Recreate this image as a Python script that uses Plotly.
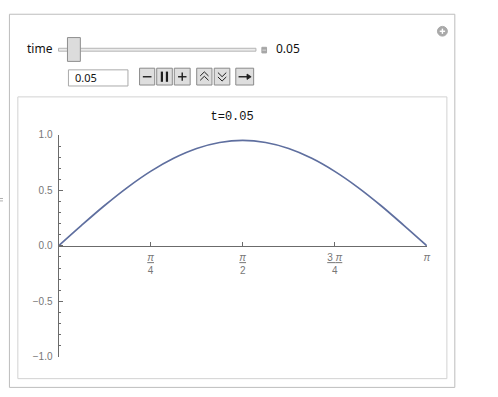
import plotly.graph_objects as go

# ---- data ----
x_vals = [0.000, 0.196, 0.393, 0.589, 0.785, 0.982, 1.178, 1.374, 1.571,
          1.767, 1.963, 2.160, 2.356, 2.553, 2.749, 2.945, 3.142]
y_vals = [0.000, 0.185, 0.364, 0.528, 0.672, 0.790, 0.878, 0.932, 0.951,
          0.932, 0.878, 0.790, 0.672, 0.528, 0.364, 0.185, 0.000]
x_tickvals = [0.7854, 1.5708, 2.3562, 3.1416]
x_ticktext = ["<u><i>π</i></u><br>4", "<u><i>π</i></u><br>2", "<u>3 <i>π</i></u><br>4", "<i>π</i>"]
y_tickvals = [-1.0, -0.5, 0.0, 0.5, 1.0]
y_ticktext = ["−1.0", "−0.5", "0.0", "0.5", "1.0"]
title_text = "t=0.05"
slider_label = "time"
slider_value = "0.05"

W, H = 498, 397


def px(x):
    return x / W


def py(y):
    return 1 - y / H


fig = go.Figure()
fig.add_trace(go.Scatter(x=x_vals, y=y_vals, mode="lines",
                         line=dict(color="#5f6f9f", width=1.7, shape="spline"),
                         hoverinfo="skip", showlegend=False))

shapes = []


def rect(x0, y0, x1, y1, fill, line, lw=1):
    shapes.append(dict(type="rect", xref="paper", yref="paper",
                       x0=px(x0), x1=px(x1), y0=py(y1), y1=py(y0),
                       fillcolor=fill, line=dict(color=line, width=lw), layer="below"))


def seg(x0, y0, x1, y1, color, lw=1.2):
    shapes.append(dict(type="line", xref="paper", yref="paper",
                       x0=px(x0), x1=px(x1), y0=py(y0), y1=py(y1),
                       line=dict(color=color, width=lw)))


def path(points, color, lw=1.2, fill=None):
    d = "M " + " L ".join(f"{px(a):.5f},{py(b):.5f}" for a, b in points)
    if fill:
        d += " Z"
    shapes.append(dict(type="path", xref="paper", yref="paper", path=d,
                       fillcolor=fill if fill else "rgba(0,0,0,0)",
                       line=dict(color=color, width=lw)))


# panels
rect(9.5, 9.5, 458.5, 393.3, "white", "#bdbdbd")
rect(18, 94.5, 450.5, 384.3, "white", "#d2d2d2")

# slider
rect(59, 44.5, 258, 47.5, "#ececec", "#b4b4b4")
rect(68, 33.5, 81, 58, "#dcdcdc", "#8e8e8e")
rect(264, 43.5, 268.7, 49.3, "#a6a6a6", "#a6a6a6")
seg(264.5, 46.4, 268.2, 46.4, "#e6e6e6", 0.8)

# input box
rect(69, 66.7, 129, 83.3, "white", "#aaaaaa")

# buttons
btns = [(140.7, 156), (158, 173.7), (175.7, 191.7), (198.3, 213.7), (216, 231.7), (237.7, 255.7)]
for (a, b) in btns:
    rect(a, 65, b, 82.3, "#dedede", "#8a8a8a")
g = "#1e1e1e"
# minus
seg(144, 73.8, 152.7, 73.8, g, 1.4)
# pause
seg(163.2, 68.5, 163.2, 79, g, 2.2)
seg(168.3, 68.5, 168.3, 79, g, 2.2)
# plus
seg(179.5, 73.8, 188, 73.8, g, 1.4)
seg(183.7, 69.5, 183.7, 78, g, 1.4)
# double chevron up
path([(201.8, 73), (206, 68.8), (210.2, 73)], g, 1.0)
path([(201.8, 77.5), (206, 73.3), (210.2, 77.5)], g, 1.0)
# double chevron down
path([(219.7, 69.5), (223.9, 73.7), (228.1, 69.5)], g, 1.0)
path([(219.7, 74), (223.9, 78.2), (228.1, 74)], g, 1.0)
# arrow right
seg(240.5, 73.8, 250, 73.8, g, 1.4)
path([(249, 71), (253.2, 73.8), (249, 76.6)], g, 0.8, fill=g)

# plus-circle icon
shapes.append(dict(type="circle", xref="paper", yref="paper",
                   x0=px(441), x1=px(451), y0=py(32), y1=py(22),
                   fillcolor="#a9a9a9", line=dict(color="#a9a9a9", width=1)))
seg(443.3, 27, 448.7, 27, "white", 1.4)
seg(446, 24.3, 446, 29.7, "white", 1.4)

# small artifact at left edge
seg(0, 199, 3, 199, "#9a9a9a", 0.8)
seg(0, 201.5, 3, 201.5, "#9a9a9a", 0.8)

annotations = [
    dict(text=slider_label, x=px(25), y=py(45), xref="paper", yref="paper",
         xanchor="left", yanchor="middle", showarrow=False,
         font=dict(family="Noto Sans", size=12, color="#111")),
    dict(text=slider_value, x=px(276.5), y=py(45), xref="paper", yref="paper",
         xanchor="left", yanchor="middle", showarrow=False,
         font=dict(family="Noto Sans", size=12, color="#111")),
    dict(text=slider_value, x=px(73.5), y=py(75), xref="paper", yref="paper",
         xanchor="left", yanchor="middle", showarrow=False,
         font=dict(family="Noto Sans", size=11, color="#111")),
]

fig.update_layout(
    width=W, height=H,
    margin=dict(l=0, r=0, t=0, b=0),
    paper_bgcolor="white", plot_bgcolor="rgba(0,0,0,0)",
    title=dict(text=title_text, x=px(234), y=py(114), xref="paper", yref="paper",
               xanchor="center", yanchor="middle",
               font=dict(family="Liberation Mono", size=12, color="#111")),
    xaxis=dict(domain=[px(59), px(430.3)], range=[0, 3.1416],
               anchor="free", position=(H - 248) / H,
               showgrid=False, zeroline=False, showline=True,
               linecolor="#6b6b6b", linewidth=1,
               ticks="inside", ticklen=4, tickcolor="#6b6b6b",
               tickvals=x_tickvals, ticktext=x_ticktext, ticklabelstandoff=2,
               tickfont=dict(family="Liberation Sans", size=10, color="#777")),
    yaxis=dict(domain=[(H - 361.7) / H, (H - 133.7) / H], range=[-1, 1],
               showgrid=False, zeroline=False, showline=True,
               linecolor="#6b6b6b", linewidth=1,
               ticks="inside", ticklen=4, tickcolor="#6b6b6b",
               tickvals=y_tickvals, ticktext=y_ticktext, ticklabelstandoff=3,
               minor=dict(dtick=0.1, tick0=0, ticks="inside", ticklen=2.5,
                          tickcolor="#6b6b6b", showgrid=False),
               tickfont=dict(family="Liberation Sans", size=10, color="#777")),
    shapes=shapes, annotations=annotations,
)

fig.write_html("out.html")
